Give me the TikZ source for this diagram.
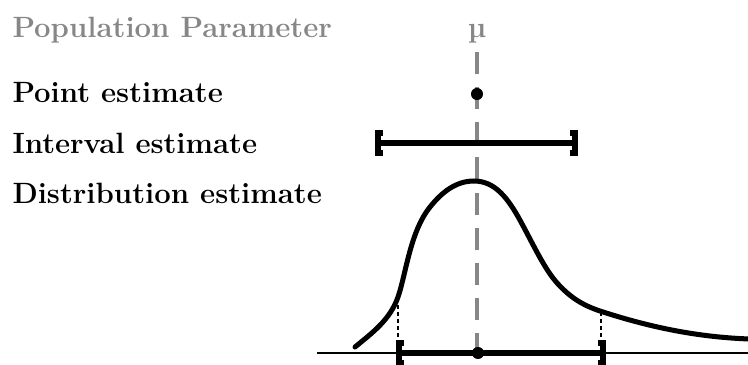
\documentclass[tikz,border=0pt]{standalone}
\usepackage{tikz}
\usepackage{textcomp}
\usetikzlibrary{arrows.meta}
\definecolor{paramgray}{gray}{0.53}

\begin{document}
\begin{tikzpicture}[x=0.014cm, y=-0.014cm,
  every node/.style={font=\fontsize{11.7}{13}\selectfont\bfseries, inner sep=0pt},
  lbl/.style={anchor=base west},
  dot/.style={circle, fill=black, minimum size=4.8pt},
  brk/.tip={Bracket[width=10pt, length=1.8pt, line width=2.4pt]},
  est/.style={line width=2pt, brk-brk}]
  \useasboundingbox (0,0) rectangle (748,364);
  % Labels on the left
  \node[lbl, text=paramgray] (pop) at (12,37) {Population Parameter};
  \node[lbl] (point) at (12,102) {Point estimate};
  \node[lbl] (interval) at (12,153) {Interval estimate};
  \node[lbl] (dist) at (12,203) {Distribution estimate};
  % the parameter and its line
  \node[text=paramgray, anchor=base] (mu) at (477,37) {\textmu};
  \coordinate (mutop) at (477,52);
  \coordinate (mubot) at (477,353);
  \draw[paramgray, line width=1.2pt, dash pattern=on 8.8pt off 5.2pt] (mutop) -- (mubot);
  % Point estimate
  \node[dot] (pdot) at (477,94) {};
  % Interval estimate
  \coordinate (ilo) at (375,143);
  \coordinate (ihi) at (578,143);
  \draw[est] (ilo) -- (ihi);
  % Distribution estimate, axis first
  \coordinate (axl) at (317,353);
  \coordinate (axr) at (748,353);
  \draw[line width=0.8pt] (axl) -- (axr);
  \draw[line width=2pt, line cap=round, line join=round]
    (355,347) .. controls (372,333) and (390,320) .. (398,297)
    .. controls (406,274) and (410,232) .. (430,207)
    .. controls (442,192) and (456,181) .. (474,181)
    .. controls (495,181) and (508,198) .. (521,222)
    .. controls (534,246) and (545,270) .. (558,284)
    .. controls (570,297) and (582,305) .. (600,311)
    .. controls (640,324) and (690,337) .. (750,339);
  % dotted drops onto the axis
  \coordinate (dlo) at (398,298);
  \coordinate (dhi) at (601,312);
  \coordinate (blo) at (398,346);
  \coordinate (bhi) at (601,346);
  \draw[line width=0.6pt, dash pattern=on 1.6pt off 1.2pt] (dlo) -- (blo);
  \draw[line width=0.6pt, dash pattern=on 1.6pt off 1.2pt] (dhi) -- (bhi);
  \coordinate (clo) at (396,353);
  \coordinate (chi) at (606,353);
  \draw[est] (clo) -- (chi);
  \node[dot] (cdot) at (478,353) {};
\end{tikzpicture}
\end{document}
